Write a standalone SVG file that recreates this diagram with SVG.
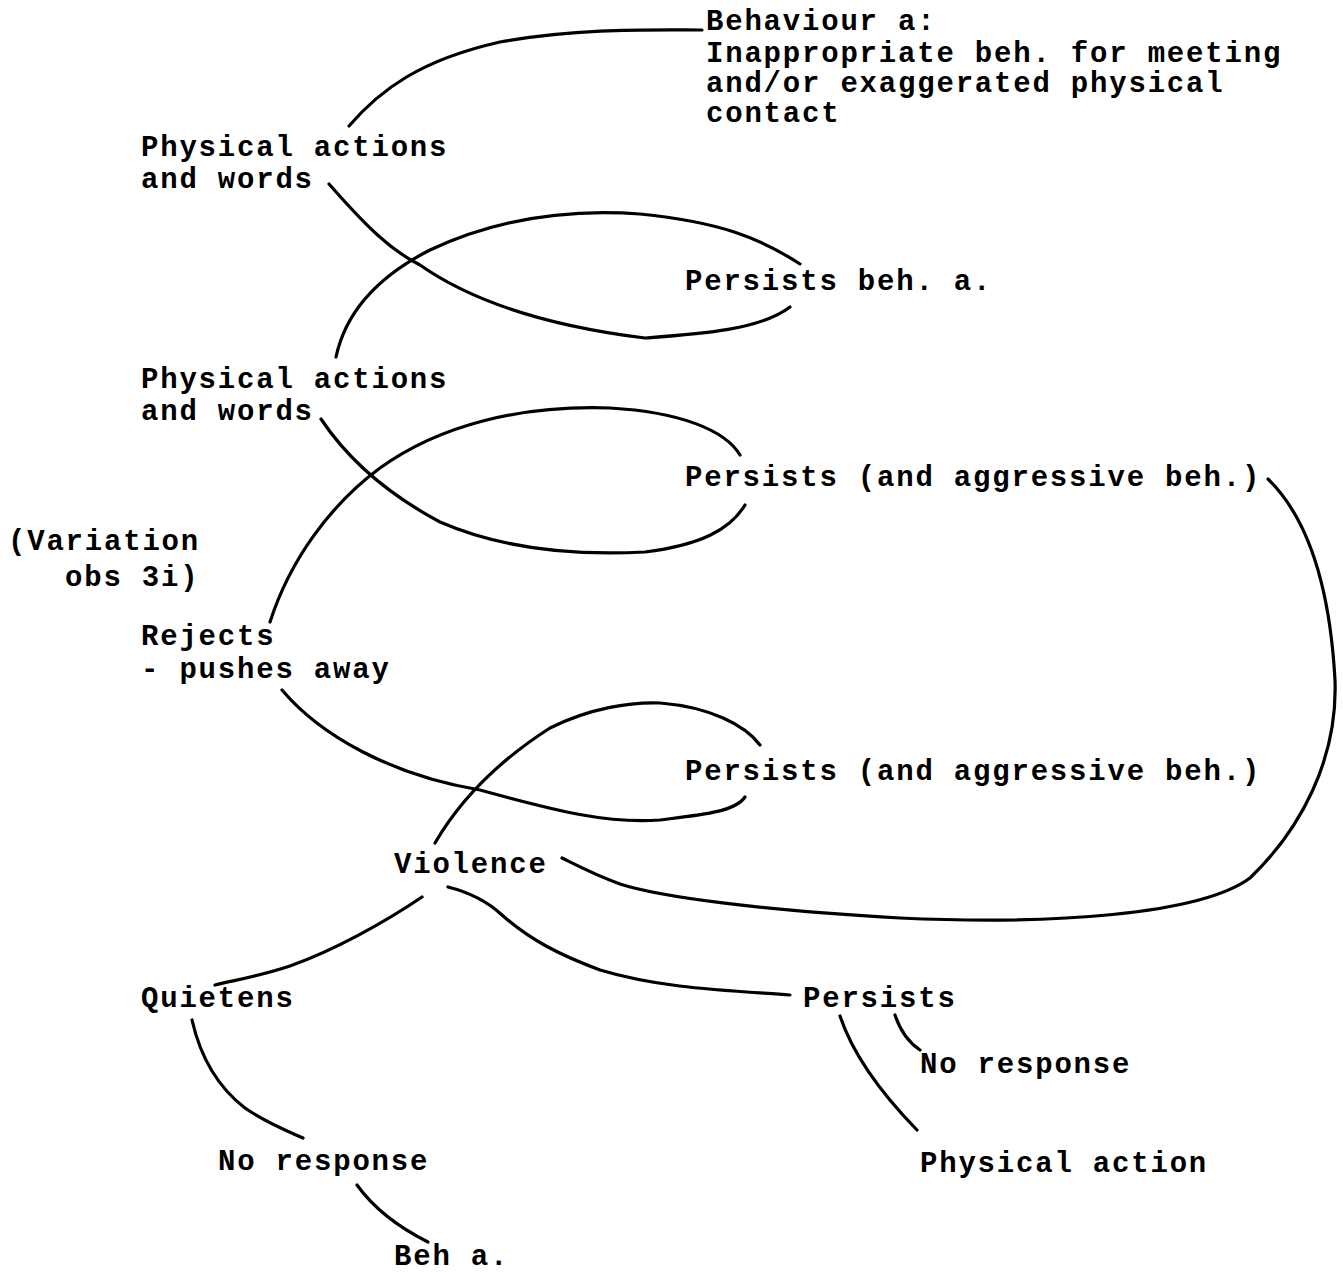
<svg xmlns="http://www.w3.org/2000/svg" width="1343" height="1273" viewBox="0 0 1343 1273">
<style>
text{font-family:"Liberation Mono","DejaVu Sans Mono",monospace;font-size:29px;letter-spacing:1.8px;font-weight:bold;fill:#000}
.c{fill:none;stroke:#000;stroke-width:3.2;stroke-linecap:round;stroke-linejoin:round}
</style>
<rect width="1343" height="1273" fill="#fff"/>
<g id="connectors">
<path class="c" d="M349,126 C380,90 420,60 500,42 C580,28 650,30 702,30"/>
<path class="c" d="M329,184 C365,225 390,250 420,265 C470,300 540,325 645,338 C700,334 760,330 790,307"/>
<path class="c" d="M336,357 C345,315 375,278 430,250 C490,222 560,208 640,214 C720,222 760,238 800,264"/>
<path class="c" d="M321,419 C345,455 380,490 440,522 C500,548 570,556 645,552 C700,545 730,530 745,505"/>
<path class="c" d="M270,622 C290,560 330,505 380,468 C440,425 520,405 610,408 C680,412 725,430 740,455"/>
<path class="c" d="M282,690 C320,735 390,775 480,790 C560,812 610,824 660,820 C700,815 735,812 745,797"/>
<path class="c" d="M435,843 C460,800 500,760 550,728 C590,708 630,702 660,703 C710,707 745,725 760,745"/>
<path class="c" d="M1268,479 C1310,520 1330,590 1335,680 C1338,760 1300,830 1250,878 C1200,915 1050,925 900,918 C760,910 660,897 620,884 C595,875 578,866 562,858"/>
<path class="c" d="M422,897 C385,922 335,950 290,966 C260,976 235,980 215,985"/>
<path class="c" d="M448,887 C472,893 488,902 502,915 C530,940 560,955 600,970 C660,988 720,990 790,995"/>
<path class="c" d="M192,1020 C200,1055 215,1085 245,1108 C265,1122 285,1130 303,1138"/>
<path class="c" d="M357,1185 C375,1210 400,1228 428,1242"/>
<path class="c" d="M840,1016 C852,1052 880,1092 917,1130"/>
<path class="c" d="M895,1015 C900,1030 908,1042 920,1050"/>
</g>
<g id="behaviour-a">
<text x="706" y="30">Behaviour a:</text>
<text x="706" y="62">Inappropriate beh. for meeting</text>
<text x="706" y="92">and/or exaggerated physical</text>
<text x="706" y="122">contact</text>
</g>
<g id="physical-1">
<text x="141" y="156">Physical actions</text>
<text x="141" y="188">and words</text>
</g>
<g id="persists-beh-a">
<text x="685" y="290">Persists beh. a.</text>
</g>
<g id="physical-2">
<text x="141" y="388">Physical actions</text>
<text x="141" y="420">and words</text>
</g>
<g id="persists-aggr-1">
<text x="685" y="486">Persists (and aggressive beh.)</text>
</g>
<g id="variation">
<text x="8" y="550">(Variation</text>
<text x="65" y="586">obs 3i)</text>
</g>
<g id="rejects">
<text x="141" y="645">Rejects</text>
<text x="141" y="678">- pushes away</text>
</g>
<g id="persists-aggr-2">
<text x="685" y="780">Persists (and aggressive beh.)</text>
</g>
<g id="violence">
<text x="394" y="873">Violence</text>
</g>
<g id="quietens">
<text x="141" y="1007">Quietens</text>
</g>
<g id="persists">
<text x="803" y="1007">Persists</text>
</g>
<g id="no-response-right">
<text x="920" y="1073">No response</text>
</g>
<g id="no-response-left">
<text x="218" y="1170">No response</text>
</g>
<g id="physical-action">
<text x="920" y="1172">Physical action</text>
</g>
<g id="beh-a">
<text x="394" y="1265">Beh a.</text>
</g>
</svg>
